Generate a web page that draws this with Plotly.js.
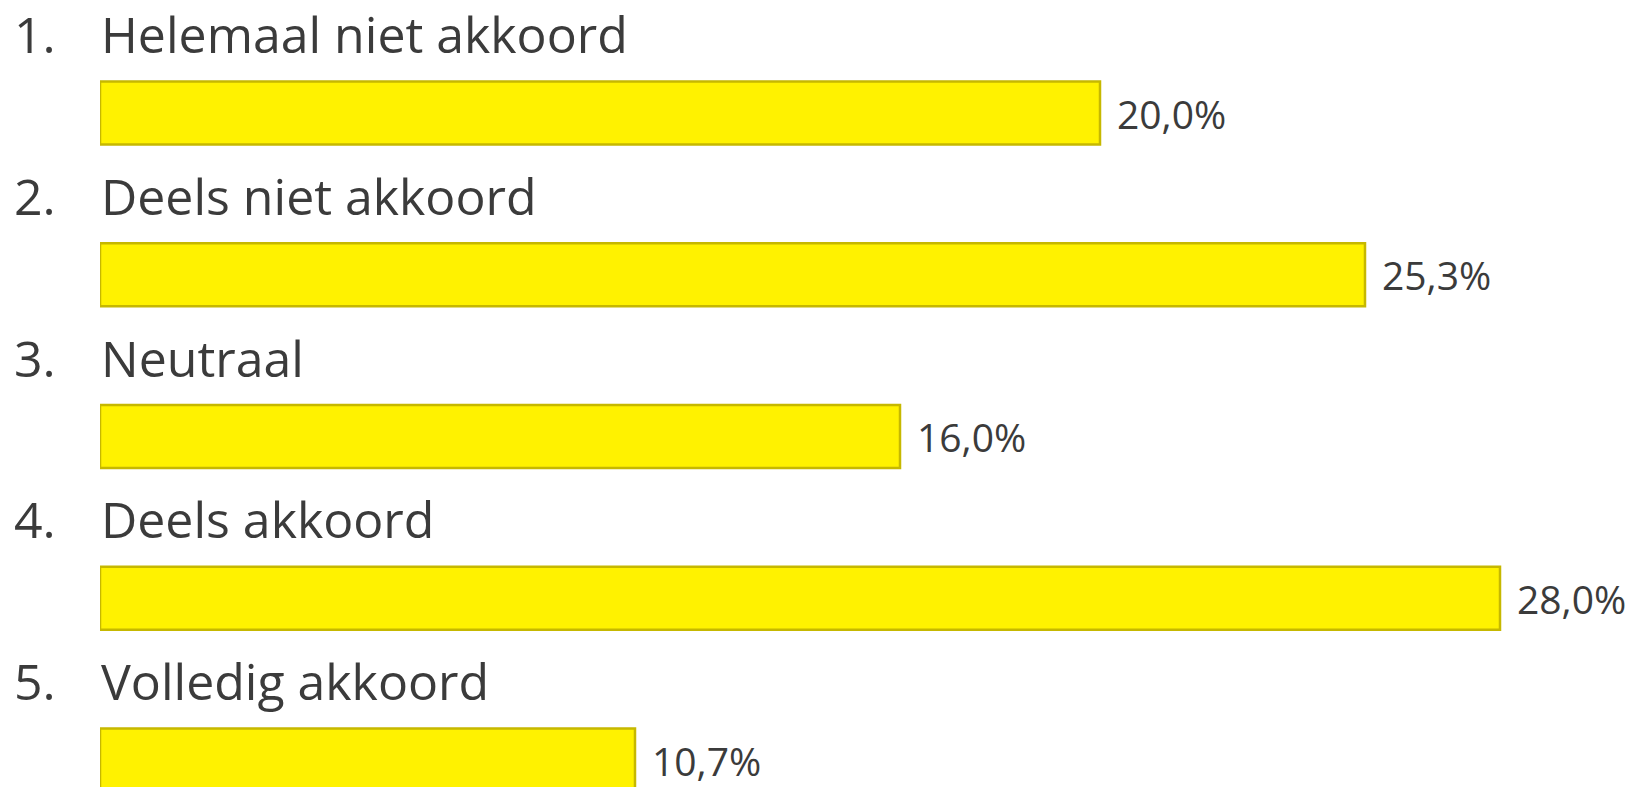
<!DOCTYPE html>
<html><head><meta charset="utf-8">
<script src="https://cdn.plot.ly/plotly-3.0.1.min.js"></script>
<style>html,body{margin:0;padding:0;background:#fff;}#chart{width:1631px;height:787px;}</style>
</head><body><div id="chart"></div>
<script>
const numbers = ["1.", "2.", "3.", "4.", "5."];
const categories = ["Helemaal niet akkoord", "Deels niet akkoord", "Neutraal", "Deels akkoord", "Volledig akkoord"];
const values = [20.0, 25.3, 16.0, 28.0, 10.7];
const valueLabels = ["20,0%", "25,3%", "16,0%", "28,0%", "10,7%"];

const positions = categories.map((c, i) => i);
const textColor = "#3b3b3b";
const font = "'Open Sans', sans-serif";

const trace = {
  type: "bar",
  orientation: "h",
  x: values,
  y: positions,
  width: 0.39,
  marker: { color: "#FFF200", line: { color: "#C6B800", width: 2.5 } },
  hoverinfo: "skip"
};

const annotations = [];
categories.forEach((c, i) => {
  annotations.push({ x: 0, y: positions[i] - 0.488, xref: "x", yref: "y", text: c, showarrow: false,
    xanchor: "left", yanchor: "middle", borderpad: 0, font: { family: font, size: 50, color: textColor } });
  annotations.push({ x: 0, y: positions[i] - 0.488, xref: "x", yref: "y", text: numbers[i], showarrow: false,
    xanchor: "left", yanchor: "middle", borderpad: 0, xshift: -87, font: { family: font, size: 50, color: textColor } });
  annotations.push({ x: values[i], y: positions[i], xref: "x", yref: "y", text: valueLabels[i], showarrow: false,
    xanchor: "left", yanchor: "middle", xshift: 15, font: { family: font, size: 39, color: textColor } });
});

const layout = {
  width: 1631, height: 787,
  margin: { l: 100, r: 0, t: 0, b: 0 },
  paper_bgcolor: "#ffffff", plot_bgcolor: "#ffffff",
  showlegend: false,
  xaxis: { range: [0, 30.62], visible: false, fixedrange: true },
  yaxis: { range: [4.1669, -0.6986], visible: false, fixedrange: true },
  annotations: annotations
};

Plotly.newPlot("chart", [trace], layout, { displayModeBar: false, staticPlot: true });
</script></body></html>
